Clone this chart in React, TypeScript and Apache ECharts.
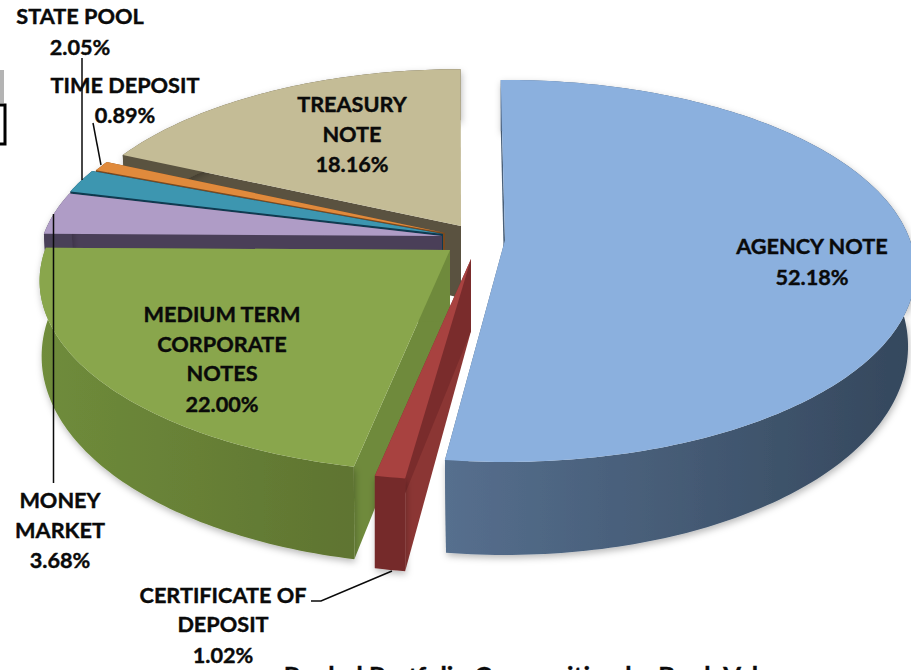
import React, { useEffect, useRef } from "react";
import * as echarts from "echarts";

const categories = ["AGENCY NOTE", "CERTIFICATE OF DEPOSIT", "MEDIUM TERM CORPORATE NOTES", "MONEY MARKET", "STATE POOL", "TIME DEPOSIT", "TREASURY NOTE"];
const values = [52.18, 1.02, 22.0, 3.68, 2.05, 0.89, 18.16];
const valueLabels = ["52.18%", "1.02%", "22.00%", "3.68%", "2.05%", "0.89%", "18.16%"];
const drawOrder = [6, 5, 4, 3, 0, 2, 1];
const title = "Pooled Portfolio Composition by Book Value";

// Projection of the tilted pie
const RX = 405, RY = 186, K = 0.162;
const DEPTH_MID = 72, DEPTH_GAIN = 21;
// Explode offset (apex), small turn and radial scale for each slice, in pie order
const apexX = [505, 471, 450, 442, 443, 445, 461];
const apexY = [240, 259, 250, 236, 234, 233, 226];
const turn = [-0.7, 0, 0, 0, 0, 0, 0];
const radial = [1, 1, 1, 0.985, 0.985, 0.98, 0.98];
const lowerScale = [0.982, 1, 0.995, 0.99, 0.99, 0.99, 0.99];
const topColors = ["#8bb0de", "#a84240", "#89a64c", "#af9cc6", "#3d96b0", "#e08a3c", "#c4bc96"];
const endWall = ["#4a6079", "#7a2c2c", "#6f8a3c", "#4a3f58", "#0f3a50", "#7a4a20", "#5a5240"];
const startWall = ["#4a6079", "#8b3634", "#6f8a3c", "#4a3f58", "#0f3a50", "#7a4a20", "#5a5240"];
const outerLeft = ["#566f8e", "#752a2a", "#6f8c3b", "#4a3f58", "#0f3a50", "#7a4a20", "#5a5240"];
const outerRight = ["#34475c", "#752a2a", "#5f7431", "#4a3f58", "#0f3a50", "#7a4a20", "#5a5240"];

const project = (i: number, deg: number, lower: boolean): number[] => {
  const t = (deg * Math.PI) / 180;
  const u = Math.sin(t), v = Math.cos(t);
  const d = 1 + K * v;
  const x = (RX * radial[i] * u) / d;
  const y = (-RY * radial[i] * v) / d;
  if (!lower) return [apexX[i] + x, apexY[i] + y];
  return [apexX[i] + x * lowerScale[i], apexY[i] + y + DEPTH_MID - DEPTH_GAIN * v];
};

const renderSlice = (_: any, api: any) => {
  const i = api.value(0);
  const startPct = api.value(2);
  const a0 = turn[i] + (startPct / 100) * 360;
  const a1 = a0 + (api.value(1) / 100) * 360;
  const n = Math.max(4, Math.ceil(a1 - a0));
  const top: number[][] = [];
  const low: number[][] = [];
  for (let s = 0; s <= n; s++) {
    const a = a0 + ((a1 - a0) * s) / n;
    top.push(project(i, a, false));
    low.push(project(i, a, true));
  }
  const apex = [apexX[i], apexY[i]];
  const apexLow = [apexX[i], apexY[i] + DEPTH_MID];
  const xs = top.concat(low).map((p) => p[0]);
  const minX = Math.min(...xs), maxX = Math.max(...xs);
  const outerFill = {
    type: "linear", x: minX, y: 0, x2: maxX, y2: 0, global: true,
    colorStops: [{ offset: 0, color: outerLeft[i] }, { offset: 1, color: outerRight[i] }],
  };
  const shadow = { shadowBlur: 7, shadowColor: "rgba(0,0,0,0.28)", shadowOffsetX: 1, shadowOffsetY: 3 };
  return {
    type: "group",
    children: [
      { type: "polygon", shape: { points: [apex, top[0], low[0], apexLow] }, style: { fill: startWall[i] } },
      { type: "polygon", shape: { points: [apex, top[n], low[n], apexLow] }, style: { fill: endWall[i] } },
      { type: "polygon", shape: { points: top.concat(low.slice().reverse()) }, style: { fill: outerFill, ...shadow } },
      { type: "polygon", shape: { points: [apex, ...top] }, style: { fill: topColors[i] } },
    ],
  };
};

const starts: number[] = [];
values.reduce((sum, v, i) => { starts[i] = sum; return sum + v; }, 0);

const textEl = (text: string, x: number, y: number, size = 21.7) => ({
  type: "text", x, y, z: 10,
  style: { text, fill: "#0a0a0a", stroke: "#0a0a0a", lineWidth: 0.4, font: `700 ${size}px Lato, sans-serif`, textAlign: "center", textVerticalAlign: "middle" },
});
const lineEl = (x1: number, y1: number, x2: number, y2: number) => ({
  type: "line", z: 9, shape: { x1, y1, x2, y2 }, style: { stroke: "#0a0a0a", lineWidth: 1.5 },
});

export default function App() {
  const ref = useRef<HTMLDivElement>(null);
  useEffect(() => {
    document.body.style.margin = "0";
    document.body.style.background = "#fff";
    const chart = echarts.init(ref.current!, null, { renderer: "svg" });
    chart.setOption({
      animation: false,
      backgroundColor: "#ffffff",
      series: [
        {
          type: "custom",
          coordinateSystem: "none",
          silent: true,
          clip: false,
          renderItem: renderSlice,
          data: drawOrder.map((i) => [i, values[i], starts[i]]),
        },
      ],
      graphic: [
        { type: "rect", z: 8, shape: { x: 0, y: 70, width: 4, height: 33 }, style: { fill: "#b4b4b4" } },
        { type: "rect", z: 8, shape: { x: -2, y: 105, width: 7, height: 39 }, style: { fill: "none", stroke: "#000", lineWidth: 3 } },
        lineEl(82, 58, 82, 180),
        lineEl(93, 123, 101, 165),
        lineEl(53.5, 214, 53.5, 483),
        { type: "polyline", z: 9, shape: { points: [[311, 601], [321, 601], [392, 571]] }, style: { stroke: "#0a0a0a", fill: "none", lineWidth: 1.5 } },
        textEl("STATE POOL", 80, 16),
        textEl(valueLabels[4], 80, 47),
        textEl("TIME DEPOSIT", 125, 85),
        textEl(valueLabels[5], 125, 115),
        textEl("TREASURY", 352, 104),
        textEl("NOTE", 352, 134),
        textEl(valueLabels[6], 352, 164),
        textEl(categories[0], 812, 246),
        textEl(valueLabels[0], 812, 277),
        textEl("MEDIUM TERM", 222, 314),
        textEl("CORPORATE", 222, 344),
        textEl("NOTES", 222, 373),
        textEl(valueLabels[2], 222, 404),
        textEl("MONEY", 60, 500),
        textEl("MARKET", 60, 530),
        textEl(valueLabels[3], 60, 560),
        textEl("CERTIFICATE OF", 223, 595),
        textEl("DEPOSIT", 223, 624),
        textEl(valueLabels[1], 223, 655),
        textEl(title, 535, 675, 25.5),
      ],
    });
    return () => chart.dispose();
  }, []);
  return <div ref={ref} style={{ width: 911, height: 670, overflow: "hidden" }} />;
}
